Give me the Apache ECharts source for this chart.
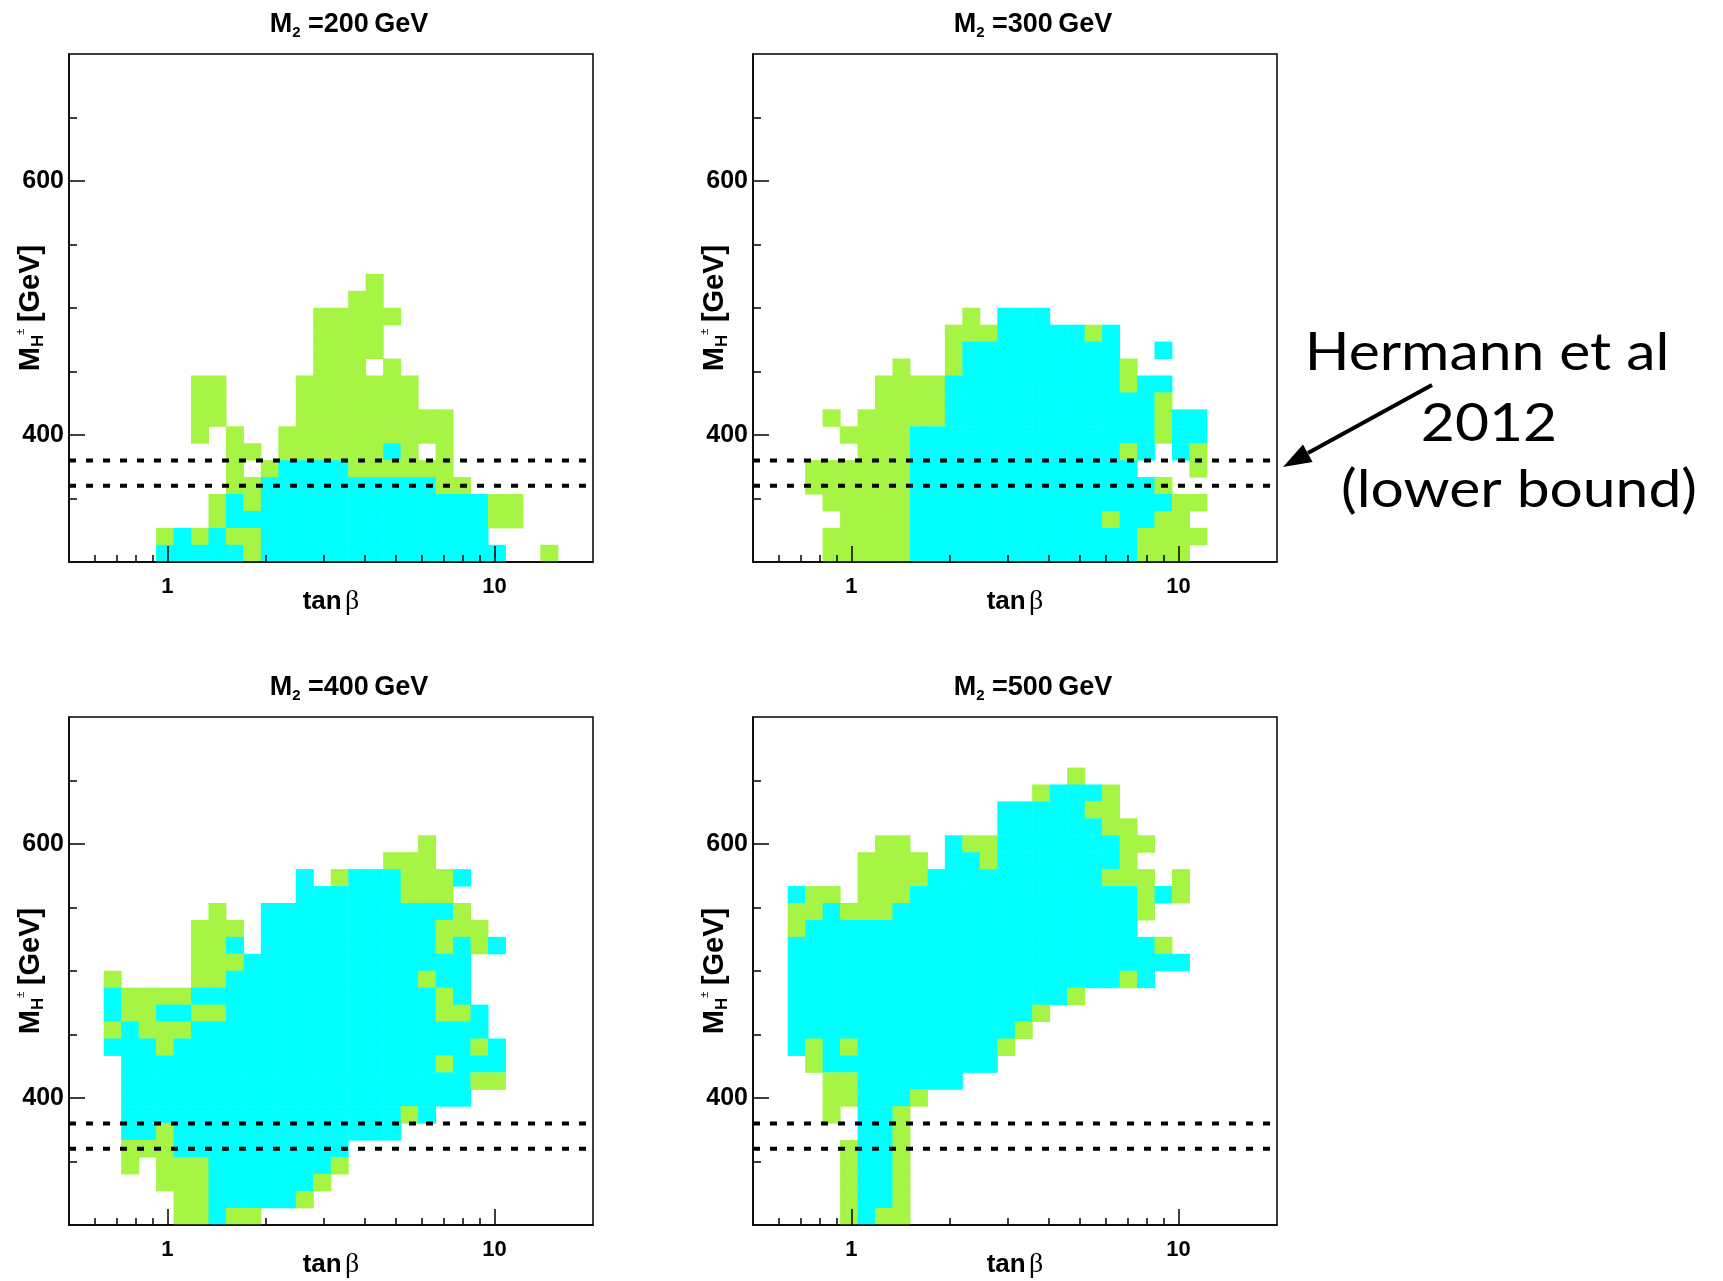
<!DOCTYPE html>
<html>
<head>
<meta charset="utf-8">
<script src="https://cdn.jsdelivr.net/npm/echarts@6/dist/echarts.min.js"></script>
<style>
  html, body { margin: 0; padding: 0; background: #ffffff; }
  #chart { width: 1723px; height: 1281px; }
</style>
</head>
<body>
<div id="chart"></div>
<script>
// Axis ranges and ticks
const tanBetaRange = [0.5, 20];
const massRange = [300, 700];
const majorTanBeta = [1, 10];
const minorTanBeta = [0.6, 0.7, 0.8, 0.9, 2, 3, 4, 5, 6, 7, 8, 9];
const majorMass = [400, 600];
const minorMass = [350, 450, 500, 550, 650];

// Lower bound on M_H± (GeV) drawn as dashed lines
const lowerBoundMass = [380, 360];

// M2 value of each panel (GeV)
const m2Values = [200, 300, 400, 500];

// Allowed points on the 30 x 30 (log tan β, M_H±) grid.
// One string per M_H± bin, from 700 GeV (top) down to 300 GeV (bottom);
// each character is a tan β bin from 0.5 to 20:  '.' none, 'g' green, 'c' cyan.
const E = '..... ..... ..... ..... ..... .....';

const m2_200 = [
  E, E, E, E, E, E, E, E, E, E, E, E, E,
  '..... ..... ..... ..g.. ..... .....',
  '..... ..... ..... .gg.. ..... .....',
  '..... ..... ....g gggg. ..... .....',
  '..... ..... ....g ggg.. ..... .....',
  '..... ..... ....g ggg.. ..... .....',
  '..... ..... ....g gg.g. ..... .....',
  '..... ..gg. ...gg ggggg ..... .....',
  '..... ..gg. ...gg ggggg ..... .....',
  '..... ..gg. ...gg ggggg gg... .....',
  '..... ..g.g ..ggg ggggg gg... .....',
  '..... ....g g.ggg gggcg .g... .....',
  '..... ....g .gccc cgggg gg... .....',
  '..... ....g gcccc ccccc cgg.. .....',
  '..... ...gc gcccc ccccc ccccg g....',
  '..... ...gc ccccc ccccc ccccg g....',
  '..... gcgcg gcccc ccccc cccc. .....',
  '..... ccccc gcccc ccccc ccccc ..g..'
];

const m2_300 = [
  E, E, E, E, E, E, E, E, E, E, E, E, E, E, E,
  '..... ..... ..g.c cc... ..... .....',
  '..... ..... .gggc ccccg c.... .....',
  '..... ..... .gccc ccccc c..c. .....',
  '..... ...g. .gccc ccccc cg... .....',
  '..... ..ggg gcccc ccccc cgcc. .....',
  '..... ..ggg gcccc ccccc cccg. .....',
  '....g .gggg gcccc ccccc cccgc c....',
  '..... ggggc ccccc ccccc cccgc c....',
  '..... .gggc ccccc ccccc cgc.c g....',
  '...gg ggggc ccccc ccccc cc... g....',
  '...gg ggggc ccccc ccccc cccg. .....',
  '....g ggggc ccccc ccccc ccccg g....',
  '..... ggggc ccccc ccccc gccgg .....',
  '....g ggggc ccccc ccccc ccggg g....',
  '....g ggggc ccccc ccccc ccggg .....'
];

const m2_400 = [
  E, E, E, E, E, E, E,
  '..... ..... ..... ..... g.... .....',
  '..... ..... ..... ...gg g.... .....',
  '..... ..... ...c. gcccg ggc.. .....',
  '..... ..... ...cc ccccg gg... .....',
  '..... ...g. .cccc ccccc ccg.. .....',
  '..... ..ggg .cccc ccccc cggg. .....',
  '..... ..ggc .cccc ccccc cgcgc .....',
  '..... ..ggg ccccc ccccc ccc.. .....',
  '..g.. ..ggc ccccc ccccc gcc.. .....',
  '..cgg ggccc ccccc ccccc cgc.. .....',
  '..cgg ccggc ccccc ccccc cggc. .....',
  '..gcg ggccc ccccc ccccc cccc. .....',
  '..ccc gcccc ccccc ccccc cccgc .....',
  '...cc ccccc ccccc ccccc cgccc .....',
  '...cc ccccc ccccc ccccc cccgg .....',
  '...cc ccccc ccccc ccccc ccc.. .....',
  '...cc ccccc ccccc ccccg c.... .....',
  '...cc gcccc ccccc cccc. ..... .....',
  '...gg gcccc ccccc c.... ..... .....',
  '...g. gggcc ccccc g.... ..... .....',
  '..... gggcc ccccg ..... ..... .....',
  '..... .ggcc cccg. ..... ..... .....',
  '..... .ggcg g.... ..... ..... .....'
];

const m2_500 = [
  E, E, E,
  '..... ..... ..... ...g. ..... .....',
  '..... ..... ..... .gccc g.... .....',
  '..... ..... ....c ccccg g.... .....',
  '..... ..... ....c ccccc gg... .....',
  '..... ..gg. .cggc ccccc cgg.. .....',
  '..... .gggg .ccgc ccccc cg... .....',
  '..... .gggg ccccc ccccc ggg.g .....',
  '..cgg .gggc ccccc ccccc ccgcg .....',
  '..ggc gggcc ccccc ccccc ccg.. .....',
  '..gcc ccccc ccccc ccccc cc... .....',
  '..ccc ccccc ccccc ccccc cccg. .....',
  '..ccc ccccc ccccc ccccc ccccc .....',
  '..ccc ccccc ccccc ccccc cgc.. .....',
  '..ccc ccccc ccccc cccg. ..... .....',
  '..ccc ccccc ccccc cg... ..... .....',
  '..ccc ccccc ccccc g.... ..... .....',
  '..cgc gcccc ccccg ..... ..... .....',
  '...gc ccccc cccc. ..... ..... .....',
  '....g gcccc cc... ..... ..... .....',
  '....g gcccg ..... ..... ..... .....',
  '....g .ccg. ..... ..... ..... .....',
  '..... .ccg. ..... ..... ..... .....',
  '..... gccg. ..... ..... ..... .....',
  '..... gccg. ..... ..... ..... .....',
  '..... gccg. ..... ..... ..... .....',
  '..... gccg. ..... ..... ..... .....',
  '..... gcgg. ..... ..... ..... .....'
];

const panelRows = [m2_200, m2_300, m2_400, m2_500];

const GREEN = '#a6f443';
const CYAN = '#00ffff';
const CODE = { '.': 0, g: 1, c: 2 };
const ROOT_FONT = '"Liberation Sans", Arial, Helvetica, sans-serif';

// Convert the row strings into heatmap cells [xBin, yBin, code]
function rowsToCells(rows) {
  const cells = [];
  rows.forEach((row, r) => {
    const bins = row.replace(/ /g, '');
    const j = rows.length - 1 - r;
    for (let i = 0; i < bins.length; i++) {
      const v = CODE[bins[i]];
      if (v) cells.push([i, j, v]);
    }
  });
  return cells;
}

const nX = m2_200[0].replace(/ /g, '').length;
const nY = m2_200.length;
const xBins = Array.from({ length: nX }, (_, i) => i);
const yBins = Array.from({ length: nY }, (_, j) => j);
const logRange = tanBetaRange.map(Math.log10);

// Pad frames (pixels)
const padW = 524, padH = 508;
const padOrigins = [[69, 54], [753, 54], [69, 717], [753, 717]];

const grids = [], xAxes = [], yAxes = [], series = [], graphics = [];

const tickLine = { color: '#000', width: 1.5 };

padOrigins.forEach(([left, top], p) => {
  grids.push({
    left: left, top: top, width: padW, height: padH,
    show: true, borderColor: '#000', borderWidth: 1.5,
    backgroundColor: 'transparent', containLabel: false, outerBoundsMode: 'none'
  });

  // binning axes (hidden) for the heatmap cells
  xAxes.push({ type: 'category', gridIndex: p, data: xBins, show: false, position: 'bottom' });
  yAxes.push({ type: 'category', gridIndex: p, data: yBins, show: false, position: 'left' });

  // tan β axis (log10 scale) with major ticks and labels
  xAxes.push({
    type: 'value', gridIndex: p, position: 'bottom', z: 6,
    min: logRange[0], max: logRange[1],
    axisLine: { show: true, onZero: false, lineStyle: tickLine },
    axisTick: { show: true, inside: true, length: 16, lineStyle: tickLine,
                customValues: majorTanBeta.map(Math.log10) },
    axisLabel: { show: true, margin: 14, customValues: majorTanBeta.map(Math.log10),
                 formatter: v => String(Math.round(Math.pow(10, v))),
                 fontFamily: ROOT_FONT, fontWeight: 'bold', fontSize: 22, color: '#000' },
    splitLine: { show: false },
    name: '{t|tan} {b|β}', nameLocation: 'middle', nameGap: 26, nameMoveOverlap: false,
    nameTextStyle: {
      rich: {
        t: { fontFamily: ROOT_FONT, fontWeight: 'bold', fontSize: 26, color: '#000' },
        b: { fontFamily: '"Liberation Serif", "DejaVu Serif", serif', fontSize: 28, color: '#000' }
      }
    }
  });
  // tan β minor ticks
  xAxes.push({
    type: 'value', gridIndex: p, position: 'bottom', z: 6,
    min: logRange[0], max: logRange[1],
    axisLine: { show: false, onZero: false },
    axisTick: { show: true, inside: true, length: 7, lineStyle: tickLine,
                customValues: minorTanBeta.map(Math.log10) },
    axisLabel: { show: false },
    splitLine: { show: false }
  });

  // M_H± axis with major ticks and labels
  yAxes.push({
    type: 'value', gridIndex: p, position: 'left', z: 6,
    min: massRange[0], max: massRange[1],
    axisLine: { show: true, onZero: false, lineStyle: tickLine },
    axisTick: { show: true, inside: true, length: 16, lineStyle: tickLine, customValues: majorMass },
    axisLabel: { show: true, margin: 5, customValues: majorMass,
                 fontFamily: ROOT_FONT, fontWeight: 'bold', fontSize: 25, color: '#000' },
    splitLine: { show: false },
    name: '{m|M}{h|H}{p|±}  {m|[GeV]}', nameLocation: 'middle', nameGap: 22, nameRotate: 90,
    nameMoveOverlap: false,
    nameTextStyle: {
      rich: {
        m: { fontFamily: ROOT_FONT, fontWeight: 'bold', fontSize: 29, lineHeight: 32, color: '#000' },
        h: { fontFamily: ROOT_FONT, fontWeight: 'bold', fontSize: 17, lineHeight: 17, verticalAlign: 'bottom', color: '#000' },
        p: { fontFamily: ROOT_FONT, fontSize: 11, lineHeight: 26, verticalAlign: 'top', color: '#000' }
      }
    }
  });
  // M_H± minor ticks
  yAxes.push({
    type: 'value', gridIndex: p, position: 'left', z: 6,
    min: massRange[0], max: massRange[1],
    axisLine: { show: false, onZero: false },
    axisTick: { show: true, inside: true, length: 8, lineStyle: tickLine, customValues: minorMass },
    axisLabel: { show: false },
    splitLine: { show: false }
  });

  const xCat = 3 * p, xVal = 3 * p + 1, yCat = 3 * p, yVal = 3 * p + 1;

  series.push({
    type: 'heatmap', name: 'M2 = ' + m2Values[p] + ' GeV',
    xAxisIndex: xCat, yAxisIndex: yCat,
    data: rowsToCells(panelRows[p]),
    itemStyle: { borderWidth: 0 },
    emphasis: { disabled: true },
    silent: true, z: 2
  });

  lowerBoundMass.forEach(m => {
    series.push({
      type: 'line', xAxisIndex: xVal, yAxisIndex: yVal,
      data: [[logRange[0], m], [logRange[1], m]],
      symbol: 'none', silent: true, z: 4,
      lineStyle: { color: '#000', width: 4, type: [7, 10] }
    });
  });

  // pad title
  graphics.push({
    type: 'text', x: left + 280, y: top - 29, z: 10,
    style: {
      text: '{m|M}{s|2}{m| =' + m2Values[p] + '\u2009GeV}',
      textAlign: 'center', textVerticalAlign: 'middle',
      rich: {
        m: { fontFamily: ROOT_FONT, fontWeight: 'bold', fontSize: 27, lineHeight: 30, fill: '#000' },
        s: { fontFamily: ROOT_FONT, fontWeight: 'bold', fontSize: 15, lineHeight: 15, verticalAlign: 'bottom', fill: '#000' }
      }
    }
  });
});

// Annotation for the lower bound
const annFont = 'Lato, "Open Sans", sans-serif';
[
  { text: 'Hermann et al', x: 1487, y: 353 },
  { text: '2012', x: 1489, y: 424 },
  { text: '(lower bound)', x: 1519, y: 490 }
].forEach(a => {
  graphics.push({
    type: 'text', x: a.x, y: a.y, scaleX: 1.13, z: 10,
    style: { text: a.text, fontFamily: annFont, fontSize: 52, fill: '#000',
             textAlign: 'center', textVerticalAlign: 'middle' }
  });
});
graphics.push({
  type: 'line', z: 10,
  shape: { x1: 1432, y1: 385, x2: 1308, y2: 453 },
  style: { stroke: '#000', lineWidth: 4 }
});
graphics.push({
  type: 'polygon', z: 10,
  shape: { points: [[1283, 467], [1312.6, 462.0], [1303.0, 444.4]] },
  style: { fill: '#000' }
});

const chart = echarts.init(document.getElementById('chart'), null, { renderer: 'canvas' });
chart.setOption({
  backgroundColor: '#ffffff',
  animation: false,
  grid: grids,
  xAxis: xAxes,
  yAxis: yAxes,
  visualMap: {
    type: 'piecewise', show: false, dimension: 2,
    seriesIndex: [0, 3, 6, 9],
    pieces: [ { value: 1, color: GREEN }, { value: 2, color: CYAN } ]
  },
  series: series,
  graphic: graphics
});
</script>
</body>
</html>
